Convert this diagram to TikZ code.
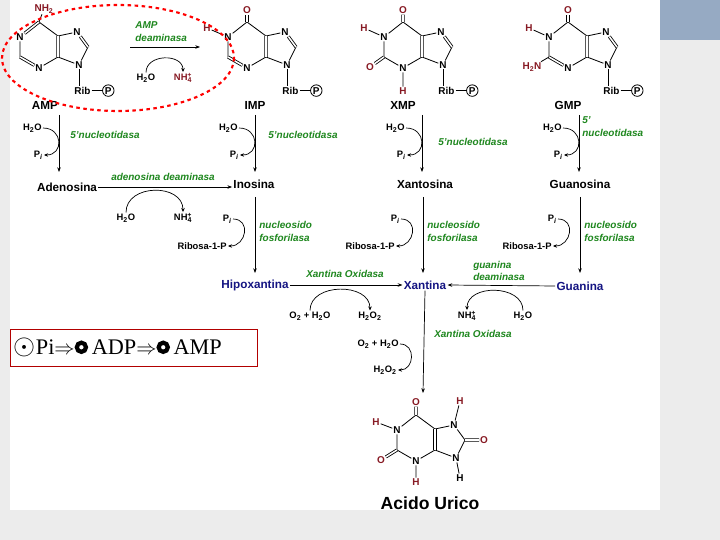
\documentclass[tikz,border=0pt]{standalone}
\usepackage{fontspec}
\setmainfont{Liberation Sans}
\newfontfamily\serifbox{Liberation Serif}
\usetikzlibrary{calc,positioning,arrows.meta}
\definecolor{dred}{RGB}{135,25,35}
\definecolor{egreen}{RGB}{30,135,30}
\definecolor{mblue}{RGB}{20,20,130}
\definecolor{slate}{RGB}{150,170,195}
\newcommand\sub[1]{\textsubscript{#1}}
\newcommand\nhfour{NH\textsubscript{4}\llap{\textsuperscript{+}}}
\newcommand\pii{P\textsubscript{\itshape i}}
\newcommand\ringdot{\tikz[baseline=-0.75ex]\draw[line width=3.6pt] (0,0) circle (3.9pt);}
% ring atoms of a purine around a centre (cx,cy)
\newcommand\purinering[3]{%
  \coordinate (#1c6) at (#2,#3-22);
  \node[atom] (#1n1) at (#2-19,#3-7) {N};
  \coordinate (#1c2) at (#2-19,#3+13);
  \node[atom] (#1n3) at (#2,#3+24) {N};
  \coordinate (#1c4) at (#2+19,#3+13);
  \coordinate (#1c5) at (#2+19,#3-8);
  \node[atom] (#1n7) at (#2+38,#3-12) {N};
  \coordinate (#1c8) at (#2+49,#3+3);
  \node[atom] (#1n9) at (#2+40,#3+21) {N};
  \draw[bond] (#1c6)--(#1n1)--(#1c2)--(#1n3)--(#1c4)--(#1c5)--(#1c6)
              (#1c5)--(#1n7)--(#1c8)--(#1n9)--(#1c4);
}
% ribose phosphate under N9
\newcommand\ribp[1]{%
  \node[atom, below=14pt of #1n9, xshift=3pt] (#1rib) {Rib};
  \node[atom, circle, draw, line width=0.7pt, inner sep=0.6pt, right=9pt of #1rib] (#1p) {P};
  \draw[bond] (#1n9)--(#1rib.north-|#1n9) (#1rib)--(#1p);
}
\begin{document}
\begin{tikzpicture}[x=0.03cm, y=-0.03cm,
  atom/.style={font=\fontsize{8.5}{9}\selectfont\bfseries, inner sep=0.7pt},
  sub/.style={atom, text=dred},
  bond/.style={draw, line width=0.7pt},
  dbl/.style={double, double distance=1.3pt, line width=0.7pt},
  lbl/.style={font=\fontsize{8}{9}\selectfont\bfseries, inner sep=1pt},
  met/.style={font=\fontsize{10}{11}\selectfont\bfseries, inner sep=1pt},
  enz/.style={font=\fontsize{8.5}{11}\selectfont\bfseries\itshape, text=egreen, align=left, inner sep=1pt},
  arr/.style={-{Stealth[length=4pt,width=3pt]}, line width=0.6pt},
  side/.style={-{Stealth[length=3.5pt,width=3pt]}, line width=0.6pt}]
\useasboundingbox (0,0) rectangle (720,540);
% slide background
\fill[gray!15] (0,0) rectangle (720,540);
\fill[white] (10,0) rectangle (660,510);
\fill[slate] (660,0) rectangle (720,40);

% AMP
\purinering{a}{39}{44}
\draw[dbl] (ac6)--(an1) (ac2)--(an3) (ac4)--(ac5) (an7)--(ac8);
\node[sub] (anh) at (44,9) {NH\sub{2}};
\draw[bond] (ac6)--(anh);
\ribp{a}
\node[met] (amp) at (45,105) {AMP};
% IMP
\purinering{i}{247}{44}
\draw[dbl] (ic2)--(in3) (ic4)--(ic5) (in7)--(ic8);
\node[sub] (io) at (247,10) {O};
\node[sub] (ih) at (207,28) {H};
\draw[dbl] (ic6)--(io);
\draw[bond] (in1)--(ih);
\ribp{i}
\node[met] (imp) at (255,105) {IMP};
% XMP
\purinering{x}{403}{44}
\draw[dbl] (xc4)--(xc5) (xn7)--(xc8);
\node[sub] (xo6) at (403,10) {O};
\node[sub] (xh1) at (364,28) {H};
\node[sub] (xo2) at (370,67) {O};
\node[sub] (xh3) at (403,91) {H};
\draw[dbl] (xc6)--(xo6) (xc2)--(xo2);
\draw[bond] (xn1)--(xh1) (xn3)--(xh3);
\ribp{x}
\node[met] (xmp) at (403,105) {XMP};
% GMP
\purinering{g}{568}{44}
\draw[dbl] (gc2)--(gn3) (gc4)--(gc5) (gn7)--(gc8);
\node[sub] (go) at (568,10) {O};
\node[sub] (gh) at (529,28) {H};
\node[sub] (gnh) at (532,67) {H\sub{2}N};
\draw[dbl] (gc6)--(go);
\draw[bond] (gn1)--(gh) (gc2)--(gnh);
\ribp{g}
\node[met] (gmp) at (568,105) {GMP};

% AMP deaminase step
\draw[arr] (130,47) -- (200,47);
\node[enz, anchor=west] (ampd) at (134,32) {AMP\\deaminasa};
\node[lbl] (w0) at (146,78) {H\sub{2}O};
\node[lbl, text=dred] (n0) at (183,78) {\nhfour};
\draw[side] (w0.north) to[out=90,in=90,looseness=1.3] (n0.north);
\draw[red, dashed, line width=1.8pt] (118,58) ellipse [x radius=116, y radius=53];

% nucleotidase steps
\node[met] (ado) at (67,187) {Adenosina};
\node[met] (ino) at (254,184) {Inosina};
\node[met] (xao) at (425,184) {Xantosina};
\node[met] (guo) at (580,184) {Guanosina};
\foreach \m/\x in {amp/59, imp/255, xmp/422, gmp/579}{
  \draw[arr] (\x,115) -- (\x,172);
  \node[lbl, anchor=east] (w\m) at (\x-16,128) {H\sub{2}O};
  \node[lbl, anchor=east] (p\m) at (\x-15,155) {\pii};
  \draw[side] (w\m.east) to[out=0,in=0,looseness=1.9] (p\m.east);
}
\node[enz] (nt1) at (105,135) {5'nucleotidasa};
\node[enz] (nt2) at (303,135) {5'nucleotidasa};
\node[enz] (nt3) at (473,142) {5'nucleotidasa};
\node[enz, anchor=north west] (nt4) at (581,115) {5'\\nucleotidasa};

% adenosine deaminase
\draw[arr] (ado.east) -- (ado.east -| ino.west);
\node[enz] (add) at (163,177) {adenosina deaminasa};
\node[lbl] (w1) at (126,218) {H\sub{2}O};
\node[lbl] (n1) at (183,218) {\nhfour};
\draw[side] (w1.north) to[out=90,in=90,looseness=1.3] (n1.north);

% nucleoside phosphorylase steps
\node[met, text=mblue] (hx) at (255,285) {Hipoxantina};
\node[met, text=mblue] (xa) at (425,285) {Xantina};
\node[met, text=mblue] (gu) at (580,286) {Guanina};
\foreach \n/\x in {ino/255, xao/423, guo/580}{
  \draw[arr] (\x,197) -- (\x,273);
  \node[lbl, anchor=east] (pp\n) at (\x-22,219) {\pii};
  \node[lbl, anchor=east] (r\n) at (\x-27,246) {Ribosa-1-P};
  \node[enz, anchor=west] (e\n) at (\x+3,231) {nucleosido\\fosforilasa};
  \draw[side] (pp\n.east) to[out=0,in=0,looseness=1.7] (r\n.east);
}

% xanthine oxidase (hypoxanthine)
\draw[arr] (hx.east) -- (xa.west);
\node[enz] (xo1) at (345,274) {Xantina Oxidasa};
\node[lbl] (w2) at (310,316) {O\sub{2} + H\sub{2}O};
\node[lbl] (h2) at (370,316) {H\sub{2}O\sub{2}};
\draw[side] (w2.north) to[out=90,in=90,looseness=1.2] (h2.north);

% guanine deaminase
\draw[arr] (gu.west) -- (xa.east);
\node[enz] (gd) at (499,271) {guanina\\deaminasa};
\node[lbl] (w3) at (523,316) {H\sub{2}O};
\node[lbl] (n3) at (467,316) {\nhfour};
\draw[side] (w3.north) to[out=90,in=90,looseness=1.2] (n3.north);

% xanthine oxidase (xanthine)
\draw[arr] (xa.south) -- (423,393);
\node[enz] (xo2) at (473,334) {Xantina Oxidasa};
\node[lbl, anchor=east] (w4) at (400,344) {O\sub{2} + H\sub{2}O};
\node[lbl, anchor=east] (h4) at (398,370) {H\sub{2}O\sub{2}};
\draw[side] (w4.east) to[out=0,in=0,looseness=1.6] (h4.east);

% uric acid
\purinering{u}{416}{437}
\draw[dbl] (uc4)--(uc5);
\node[sub] (uo6) at (416,402) {O};
\node[sub] (uh1) at (376,422) {H};
\node[sub] (uo2) at (381,460) {O};
\node[sub] (uh3) at (416,482) {H};
\node[sub] (uh7) at (460,401) {H};
\node[sub] (uo8) at (484,440) {O};
\node[atom] (uh9) at (460,478) {H};
\draw[dbl] (uc6)--(uo6) (uc2)--(uo2) (uc8)--(uo8);
\draw[bond] (un1)--(uh1) (un3)--(uh3) (un7)--(uh7) (un9)--(uh9);
\node[met, font=\fontsize{15}{17}\selectfont\bfseries] (uric) at (430,503) {Acido Urico};

% boxed note
\node[draw=red!70!black, line width=0.6pt, text width=240*0.03cm, minimum height=37*0.03cm,
  anchor=north west, inner sep=3pt, align=left, font=\serifbox\fontsize{19}{21}\selectfont] (note) at (10,329)
  {\scalebox{1.4}{$\odot$}Pi$\Rightarrow$\ringdot\,ADP$\Rightarrow$\ringdot\,AMP};
\end{tikzpicture}
\end{document}
